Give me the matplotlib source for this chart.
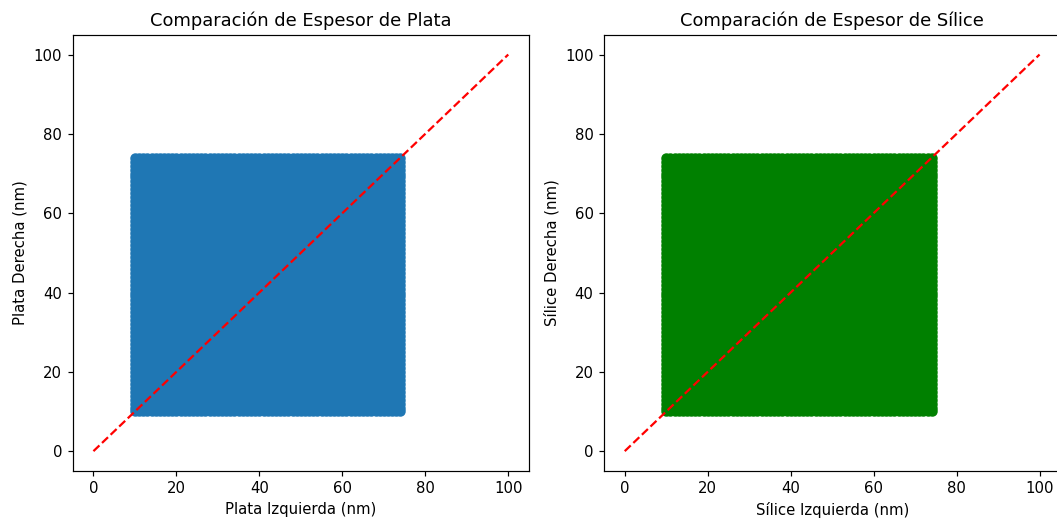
import numpy as np
import matplotlib
matplotlib.use("Agg")
import matplotlib.pyplot as plt

# valores de espesor (nm) usados en ambos lados
espesores_plata = [10, 11, 12, 13, 14, 15, 16, 17, 18, 19, 20, 21, 22, 23, 24, 25, 26, 27, 28, 29,
                   30, 31, 32, 33, 34, 35, 36, 37, 38, 39, 40, 41, 42, 43, 44, 45, 46, 47, 48, 49,
                   50, 51, 52, 53, 54, 55, 56, 57, 58, 59, 60, 61, 62, 63, 64, 65, 66, 67, 68, 69,
                   70, 71, 72, 73, 74]
espesores_silice = [10, 11, 12, 13, 14, 15, 16, 17, 18, 19, 20, 21, 22, 23, 24, 25, 26, 27, 28, 29,
                    30, 31, 32, 33, 34, 35, 36, 37, 38, 39, 40, 41, 42, 43, 44, 45, 46, 47, 48, 49,
                    50, 51, 52, 53, 54, 55, 56, 57, 58, 59, 60, 61, 62, 63, 64, 65, 66, 67, 68, 69,
                    70, 71, 72, 73, 74]
linea_ref = [0, 100]

# todas las combinaciones izquierda/derecha
plata_izq, plata_der = np.meshgrid(espesores_plata, espesores_plata)
silice_izq, silice_der = np.meshgrid(espesores_silice, espesores_silice)

DPI = 107.5
fig = plt.figure(figsize=(1057 / DPI, 521 / DPI), dpi=DPI)
ax1 = fig.add_axes([72.7 / 1057, 0.096, 456.3 / 1057, 0.8374])
ax2 = fig.add_axes([604 / 1057, 0.096, 456.3 / 1057, 0.8374])

ax1.scatter(plata_izq.ravel(), plata_der.ravel())
ax1.plot(linea_ref, linea_ref, 'r--')
ax1.set_title('Comparación de Espesor de Plata')
ax1.set_xlabel('Plata Izquierda (nm)')
ax1.set_ylabel('Plata Derecha (nm)')

ax2.scatter(silice_izq.ravel(), silice_der.ravel(), color='green')
ax2.plot(linea_ref, linea_ref, 'r--')
ax2.set_title('Comparación de Espesor de Sílice')
ax2.set_xlabel('Sílice Izquierda (nm)')
ax2.set_ylabel('Sílice Derecha (nm)')

fig.savefig('out.png', dpi=DPI)
